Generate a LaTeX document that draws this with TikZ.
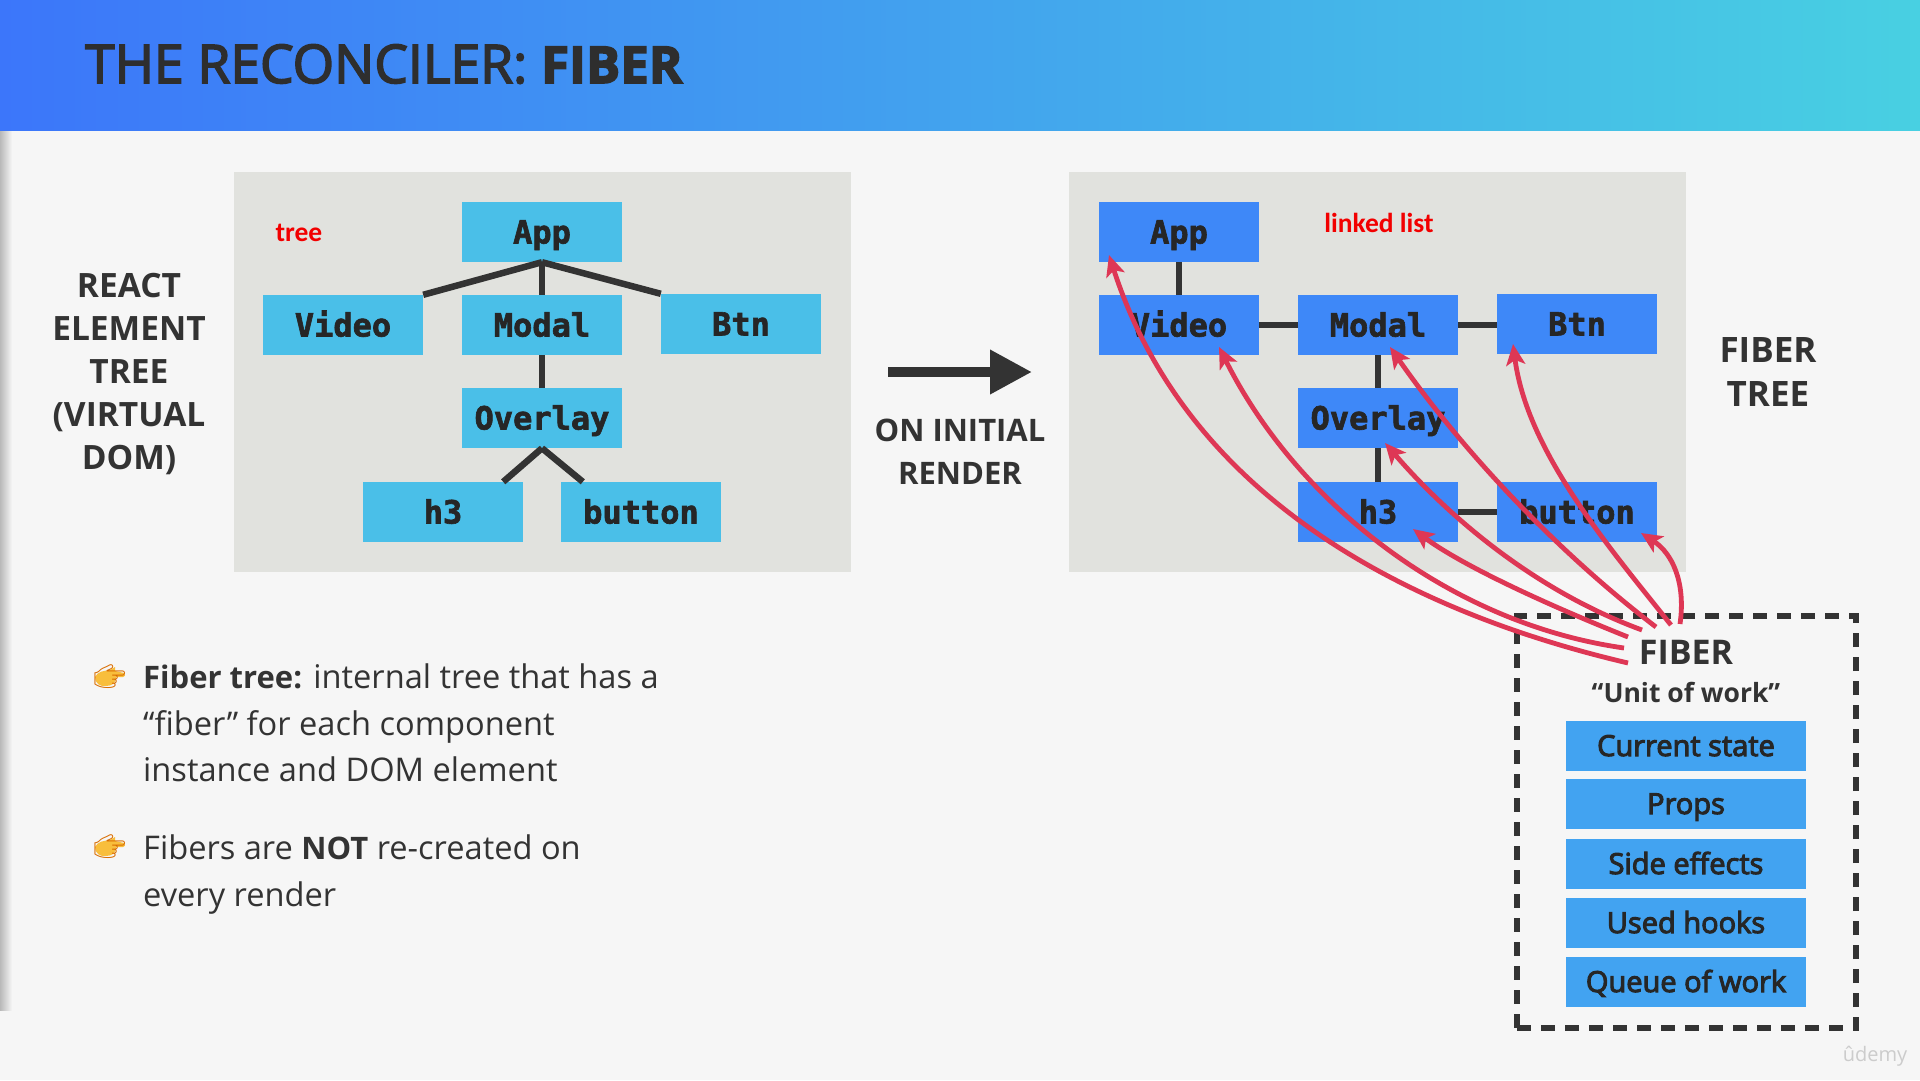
\documentclass[tikz,border=0pt]{standalone}
\usepackage{fontspec}
\usepackage{xcolor}
\usepackage{tikz}
\usetikzlibrary{arrows.meta}
\setmainfont{Open Sans}
\newfontfamily\medfont[FakeBold=3.5]{Open Sans}
\newfontfamily\titlefont[FakeBold=3]{Open Sans}
\newfontfamily\codefont[FakeBold=2]{DejaVu Sans Mono}
\newfontfamily\notefont{Carlito}
\newfontfamily\emojifont{Noto Emoji}
\definecolor{slidebg}{RGB}{246,246,246}
\definecolor{panelbg}{RGB}{225,226,222}
\definecolor{inkdark}{RGB}{51,51,51}
\definecolor{elemblue}{RGB}{74,191,232}
\definecolor{fiberblue}{RGB}{62,136,248}
\definecolor{workblue}{RGB}{66,163,241}
\definecolor{linkred}{RGB}{222,55,85}
\definecolor{handamber}{RGB}{248,190,60}
\newcommand{\handfill}[2]{\fill[handamber, shift={(#1,#2)}] (-15,0) .. controls (-12,-6) and (-6,-6) .. (0,-7) -- (5,-10) -- (5,-6) -- (14,-4) .. controls (16,-2) and (15,0) .. (13,0) -- (6,0) .. controls (6,6) and (2,9) .. (-4,9) .. controls (-10,10) and (-15,6) .. cycle;}
\newcommand{\boldword}[1]{{\fontsize{31}{46.5}\selectfont\bfseries #1}}
\tikzset{
    elem/.style={fill=elemblue, minimum width=160, minimum height=60, inner sep=0pt, text=black!85,
        text height=30pt, text depth=7pt, font=\codefont\bfseries\fontsize{32}{36}\selectfont},
    fib/.style={elem, fill=fiberblue},
    work/.style={fill=workblue, minimum width=240, minimum height=50, inner sep=0pt, text=black!85,
        text height=27pt, text depth=7pt, font=\medfont\fontsize{29}{34}\selectfont},
    heading/.style={align=center, text=inkdark, inner sep=0pt},
    tie/.style={inkdark, line width=6.5pt},
    link/.style={linkred, line width=4.8pt, -{Stealth[length=21pt,width=19pt,inset=5pt]}},
    note/.style={text=red!95!black, inner sep=0pt, font=\notefont\bfseries\fontsize{27.5}{30}\selectfont},
    point/.style={anchor=north west, align=left, text=inkdark, inner sep=0pt, font=\fontsize{32.6}{46.5}\selectfont},
    hand/.style={text=orange!85!black, inner sep=0pt, font=\emojifont\fontsize{26}{30}\selectfont}
}

\begin{document}
\begin{tikzpicture}[x=1pt, y=-1pt]
                % Fix the slide
                \useasboundingbox (0,0) rectangle (1920,1080);
                \fill[slidebg] (0,0) rectangle (1920,1080);
                \shade[left color=black!25!slidebg, right color=slidebg] (0,130) rectangle (12,1010);
                \shade[left color={rgb,255:red,60;green,118;blue,250}, middle color={rgb,255:red,66;green,160;blue,240}, right color={rgb,255:red,72;green,208;blue,226}] (0,0) rectangle (1920,130);

                % Draw the title
                \node[anchor=base west, inner sep=0pt, text=black!82, font=\titlefont\fontsize{53.3}{58}\selectfont] (title) at (85,83) {THE RECONCILER: {\fontsize{51}{58}\selectfont\bfseries FIBER}};

                % Draw the two panels
                \fill[panelbg] (234,172) rectangle (851,572);
                \fill[panelbg] (1069,172) rectangle (1686,572);

                % Draw the element tree
                \node[elem] (eApp) at (542,232) {App};
                \node[elem] (eVideo) at (343,325) {Video};
                \node[elem] (eModal) at (542,325) {Modal};
                \node[elem] (eBtn) at (741,324) {Btn};
                \node[elem] (eOverlay) at (542,418) {Overlay};
                \node[elem] (eH3) at (443,512) {h3};
                \node[elem] (eButton) at (641,512) {button};
                \draw[tie] (eApp.south) -- (eVideo.north east);
                \draw[tie] (eApp.south) -- (eModal.north);
                \draw[tie] (eApp.south) -- (eBtn.north west);
                \draw[tie] (eModal.south) -- (eOverlay.north);
                \draw[tie] (eOverlay.south) -- ([xshift=-20pt]eH3.north east);
                \draw[tie] (eOverlay.south) -- ([xshift=22pt]eButton.north west);

                % Draw the fiber tree
                \node[fib] (fApp) at (1179,232) {App};
                \node[fib] (fVideo) at (1179,325) {Video};
                \node[fib] (fModal) at (1378,325) {Modal};
                \node[fib] (fBtn) at (1577,324) {Btn};
                \node[fib] (fOverlay) at (1378,418) {Overlay};
                \node[fib] (fH3) at (1378,512) {h3};
                \node[fib] (fButton) at (1577,512) {button};
                \draw[tie] (fApp) -- (fVideo);
                \draw[tie] (fVideo) -- (fModal);
                \draw[tie] (fModal) -- (fModal -| fBtn.west);
                \draw[tie] (fModal) -- (fOverlay);
                \draw[tie] (fOverlay) -- (fH3);
                \draw[tie] (fH3) -- (fButton);

                % Label the panels
                \node[note] (treeNote) at (299,233) {tree};
                \node[note] (listNote) at (1379,223) {linked list};
                \node[heading, font=\bfseries\fontsize{33.5}{43}\selectfont] (elemLabel) at (129,374) {REACT\\ELEMENT\\TREE\\(VIRTUAL\\DOM)};
                \node[heading, font=\bfseries\fontsize{35}{44}\selectfont] (fiberLabel) at (1768,372) {FIBER\\TREE};
                \node[heading, font=\bfseries\fontsize{31}{43}\selectfont] (renderLabel) at (960,452) {ON INITIAL\\RENDER};

                % Draw the arrow between the panels
                \coordinate (renderFrom) at (888,372);
                \coordinate (renderTo) at (1032,372);
                \draw[inkdark, line width=10pt, -{Triangle[length=42pt,width=42pt]}] (renderFrom) -- (renderTo);

                % Draw the dashed unit of work
                \node[draw=inkdark, line width=6pt, dash pattern=on 14pt off 10pt, minimum width=339, minimum height=412, inner sep=0pt] (workBox) at (1686.5,822) {};
                \node[inner sep=0pt, text=inkdark, font=\bfseries\fontsize{34}{40}\selectfont] (fiberName) at (1686,652) {FIBER};
                \node[inner sep=0pt, text=inkdark, font=\bfseries\fontsize{26.5}{34}\selectfont] (unitName) at (1686,692) {“Unit of work”};
                \node[work] (wState) at (1686,746) {Current state};
                \node[work] (wProps) at (1686,804) {Props};
                \node[work] (wEffects) at (1686,864) {Side effects};
                \node[work] (wHooks) at (1686,923) {Used hooks};
                \node[work] (wQueue) at (1686,982) {Queue of work};

                % Draw the red links from FIBER to each fiber
                \coordinate (outApp) at (1628,663);
                \coordinate (outVideo) at (1624,648);
                \coordinate (outH3) at (1628,637);
                \coordinate (outOverlay) at (1642,630);
                \coordinate (outModal) at (1656,627);
                \coordinate (outBtn) at (1671,625);
                \coordinate (outButton) at (1680,624);
                \coordinate (tipApp) at (1109,255);
                \coordinate (tipVideo) at (1219,347);
                \coordinate (tipH3) at (1413,529);
                \coordinate (tipOverlay) at (1385,443);
                \coordinate (tipModal) at (1390,347);
                \coordinate (tipBtn) at (1513,344);
                \coordinate (tipButton) at (1641,533);
                \draw[link] (outApp) .. controls (1410,612) and (1188,499) .. (tipApp);
                \draw[link] (outVideo) .. controls (1448,623) and (1296,501) .. (tipVideo);
                \draw[link] (outH3) .. controls (1528,597) and (1456,561) .. (tipH3);
                \draw[link] (outOverlay) .. controls (1541,593) and (1454,523) .. (tipOverlay);
                \draw[link] (outModal) .. controls (1555,550) and (1461,449) .. (tipModal);
                \draw[link] (outBtn) .. controls (1608,546) and (1527,451) .. (tipBtn);
                \draw[link] (outButton) .. controls (1686,582) and (1672,553) .. (tipButton);

                % Draw the two points
                \handfill{110}{677}
                \node[hand] (handOne) at (110,677) {^^^^^^01f449};
                \node[point] (pointOne) at (143,664) {\boldword{Fiber tree:} internal tree that has a\\“fiber” for each component\\instance and DOM element};
                \handfill{110}{847}
                \node[hand] (handTwo) at (110,847) {^^^^^^01f449};
                \node[point] (pointTwo) at (143,835) {Fibers are \boldword{NOT} re-created on\\every render};

                % Draw the watermark
                \node[inner sep=0pt, text=black!20, font=\fontsize{20}{24}\selectfont] (mark) at (1875,1056) {ûdemy};
            \end{tikzpicture}
\end{document}
